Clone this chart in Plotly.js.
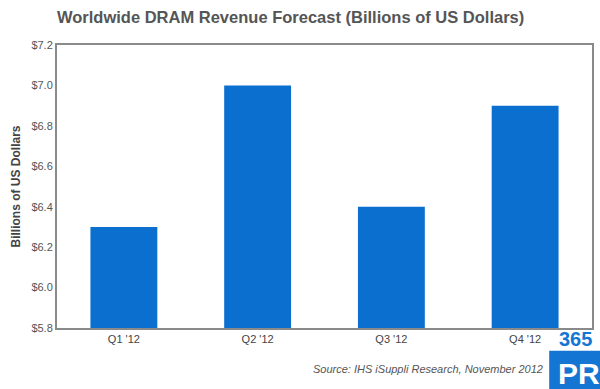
<!DOCTYPE html>
<html>
<head>
<meta charset="utf-8">
<script src="https://cdn.plot.ly/plotly-3.0.1.min.js"></script>
<style>html,body{margin:0;padding:0;background:#fff;}#chart{width:600px;height:389px;}</style>
</head>
<body>
<div id="chart"></div>
<script>
const categories = ["Q1 '12", "Q2 '12", "Q3 '12", "Q4 '12"];
const revenue = [6.3, 7.0, 6.4, 6.9];
const tickValues = [5.8, 6.0, 6.2, 6.4, 6.6, 6.8, 7.0, 7.2];
const tickLabels = ["$5.8", "$6.0", "$6.2", "$6.4", "$6.6", "$6.8", "$7.0", "$7.2"];

const trace = {
  type: 'bar',
  x: categories,
  y: revenue,
  marker: {color: '#0a6fcf', line: {width: 0}},
  hoverinfo: 'x+y'
};

const layout = {
  width: 600, height: 389,
  margin: {l: 57, r: 8, t: 45, b: 61},
  paper_bgcolor: '#fff', plot_bgcolor: '#fff',
  font: {family: 'Liberation Sans, Arial, sans-serif', color: '#555'},
  bargap: 0.5,
  showlegend: false,
  title: {
    text: '<b>Worldwide DRAM Revenue Forecast (Billions of US Dollars)</b>',
    font: {size: 16.5, color: '#555555', family: 'Liberation Sans, Arial, sans-serif'},
    x: 0, xanchor: 'left', xref: 'paper', y: 0.955, yanchor: 'middle'
  },
  xaxis: {
    showgrid: false, zeroline: false,
    showline: true, linecolor: '#8a8a8a', linewidth: 2, mirror: true,
    ticks: '', tickfont: {size: 11, color: '#444'},
    fixedrange: true
  },
  yaxis: {
    range: [5.8, 7.2],
    tickvals: tickValues,
    ticktext: tickLabels,
    showgrid: false, zeroline: false,
    showline: true, linecolor: '#8a8a8a', linewidth: 2, mirror: true,
    ticks: '', tickfont: {size: 11, color: '#555'},
    title: {text: '<b>Billions of US Dollars</b>', font: {size: 12, color: '#444'}, standoff: 8},
    fixedrange: true
  },
  shapes: [
    {type: 'rect', xref: 'paper', yref: 'paper', x0: 0.92, x1: 1.02, y0: -0.23, y1: -0.08,
     fillcolor: '#1476d2', line: {width: 0}, layer: 'above'}
  ],
  annotations: [
    {text: '<i>Source: IHS iSuppli Research, November 2012</i>', xref: 'paper', yref: 'paper',
     x: 0.913, y: -0.145, xanchor: 'right', yanchor: 'middle', showarrow: false,
     font: {size: 11, color: '#555'}},
    {text: '<b>365</b>', xref: 'paper', yref: 'paper', x: 0.97, y: -0.04,
     xanchor: 'center', yanchor: 'middle', showarrow: false,
     font: {size: 20, color: '#1476d2'}},
    {text: '<b>PR</b>', xref: 'paper', yref: 'paper', x: 0.975, y: -0.162,
     xanchor: 'center', yanchor: 'middle', showarrow: false,
     font: {size: 30, color: '#ffffff'}}
  ]
};

Plotly.newPlot('chart', [trace], layout, {displayModeBar: false, staticPlot: true});
</script>
</body>
</html>
